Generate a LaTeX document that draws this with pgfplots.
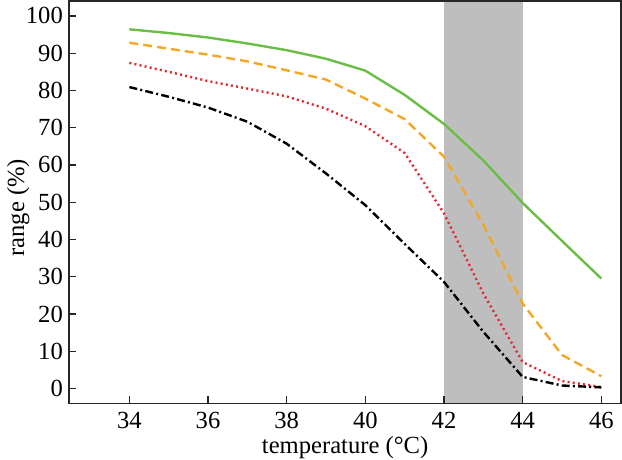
\documentclass[border=0pt]{standalone}
\usepackage{fontspec}
\setmainfont{Liberation Serif}
\usepackage{pgfplots}
\pgfplotsset{compat=1.18}
\definecolor{cgreen}{RGB}{107,190,69}
\definecolor{corange}{RGB}{243,167,38}
\definecolor{cred}{RGB}{226,40,45}
\definecolor{bandgray}{RGB}{190,190,190}
\begin{document}
\begin{tikzpicture}
\begin{axis}[
  scale only axis,
  width=275.9pt, height=201.2pt,
  xmin=32.47, xmax=46.5, ymin=-4, ymax=104,
  axis on top,
  axis line style={line width=0.8pt, black!85},
  xtick={34,36,38,40,42,44,46},
  xticklabels={34,36,38,40,42,44,46},
  ytick={0,10,20,30,40,50,60,70,80,90,100},
  yticklabels={0,10,20,30,40,50,60,70,80,90,100},
  xtick pos=bottom, ytick pos=left,
  tick align=inside,
  major tick length=3.5pt,
  every tick/.style={line width=0.6pt, black!85},
  font=\fontsize{12.3}{14}\selectfont,
  xticklabel style={anchor=base, inner sep=0pt, yshift=-12.5pt, font=\fontsize{12.3}{14}\selectfont},
  yticklabel style={anchor=east, inner sep=0pt, xshift=-3pt, font=\fontsize{12.3}{14}\selectfont},
  xlabel={temperature (°C)},
  ylabel={range (\%)},
  every axis x label/.style={at={([yshift=-25pt]axis description cs:0.5,0)}, anchor=base},
  every axis y label/.style={at={([xshift=-25.5pt]axis description cs:0,0.486)}, anchor=center, rotate=90},
]
\addplot[draw=none, fill=bandgray] coordinates {(42,-4) (42,104) (44,104) (44,-4)} -- cycle;
\addplot[cgreen, line width=1.2pt] coordinates {
(34,96.4) (35,95.4) (36,94.2) (37,92.6) (38,90.8) (39,88.5) (40,85.3) (41,78.8) (42,71.0) (43,61.2) (44,49.8) (45,39.6) (46,29.5)};
\addplot[corange, line width=1.2pt, dash pattern=on 4.5pt off 2.5pt] coordinates {
(34,92.8) (35,91.2) (36,89.6) (37,87.8) (38,85.4) (39,82.9) (40,77.8) (41,72.3) (42,62.2) (43,44.0) (44,22.8) (45,9.0) (46,3.3)};
\addplot[cred, line width=1.2pt, dash pattern=on 1pt off 1.6pt] coordinates {
(34,87.4) (35,85.0) (36,82.5) (37,80.5) (38,78.4) (39,75.1) (40,70.4) (41,63.2) (42,47.0) (43,25.5) (44,7.1) (45,2.0) (46,0.4)};
\addplot[black, line width=1.2pt, dash pattern=on 4pt off 1.6pt on 1pt off 1.6pt] coordinates {
(34,80.9) (35,78.3) (36,75.4) (37,71.6) (38,65.7) (39,57.7) (40,49.2) (41,38.8) (42,28.6) (43,15.2) (44,3.1) (45,0.8) (46,0.3)};
\end{axis}
\pgfresetboundingbox
\path[use as bounding box] ([shift={(-34.6pt,-28.3pt)}]current axis.south west) rectangle ([shift={(0.5pt,0.5pt)}]current axis.north east);
\end{tikzpicture}
\end{document}
